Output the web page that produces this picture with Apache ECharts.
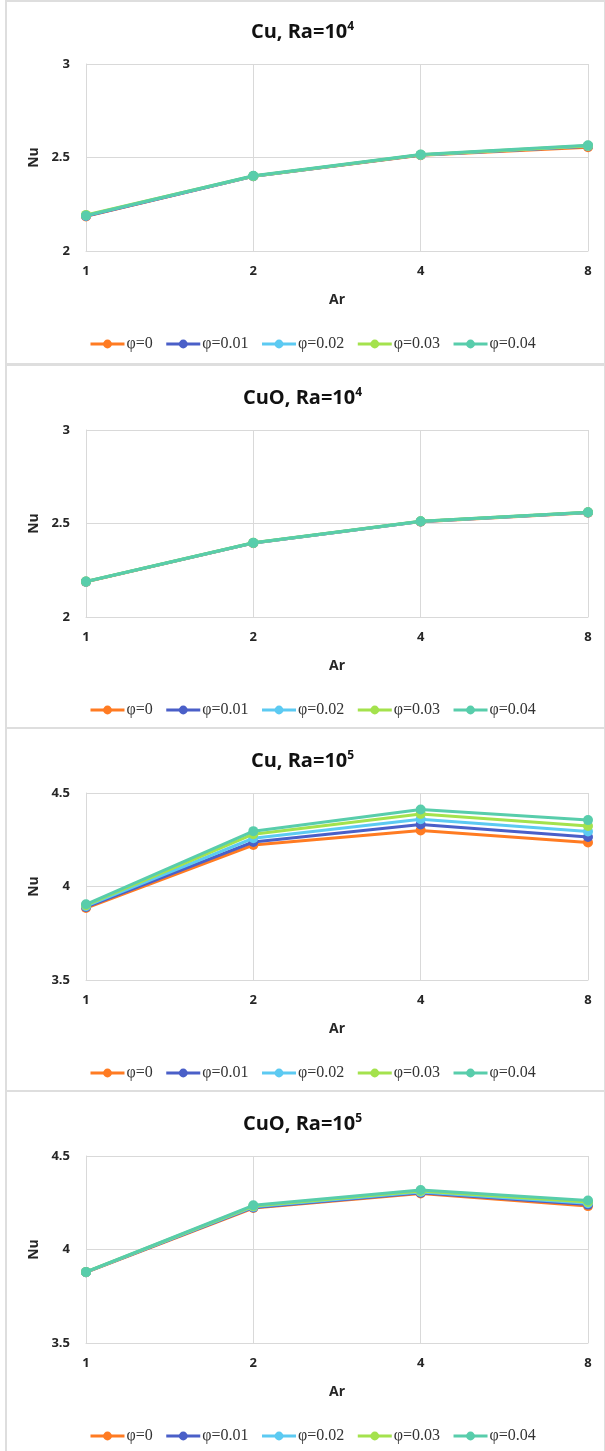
<!DOCTYPE html>
<html>
<head>
<meta charset="utf-8">
<script src="https://cdn.jsdelivr.net/npm/echarts@6/dist/echarts.min.js"></script>
<style>
  body { margin: 0; background: #fff; }
  #wrap { position: relative; width: 605px; height: 1451px; overflow: hidden; }
  .chart { position: absolute; left: 0; width: 605px; height: 364px; }
  .frame { position: absolute; left: 5px; width: 597px; height: 361px; border: 2px solid #dedede; pointer-events: none; }
</style>
</head>
<body>
<div id="wrap">
  <div class="frame" style="top:0px"></div>
  <div class="frame" style="top:364px"></div>
  <div class="frame" style="top:727px"></div>
  <div class="frame" style="top:1090px"></div>
  <div class="chart" id="c0" style="top:0px"></div>
  <div class="chart" id="c1" style="top:366px"></div>
  <div class="chart" id="c2" style="top:729px"></div>
  <div class="chart" id="c3" style="top:1092px"></div>
</div>
<script>
// x categories (aspect ratio)
var arLabels = ['1', '2', '4', '8'];
var phiNames = ['φ=0', 'φ=0.01', 'φ=0.02', 'φ=0.03', 'φ=0.04'];
var colors = ['#ff7b22', '#4a5fc8', '#5ccaf2', '#a4e24d', '#58cdab'];

// Cu, Ra=10^4
var cuRa4 = [
  [2.185, 2.400, 2.512, 2.555],
  [2.187, 2.400, 2.513, 2.560],
  [2.189, 2.400, 2.514, 2.562],
  [2.193, 2.401, 2.515, 2.563],
  [2.190, 2.402, 2.516, 2.565]
];
// CuO, Ra=10^4
var cuoRa4 = [
  [2.188, 2.395, 2.510, 2.558],
  [2.189, 2.396, 2.511, 2.559],
  [2.189, 2.396, 2.511, 2.559],
  [2.190, 2.397, 2.512, 2.560],
  [2.190, 2.397, 2.512, 2.560]
];
// Cu, Ra=10^5
var cuRa5 = [
  [3.885, 4.222, 4.300, 4.235],
  [3.890, 4.238, 4.332, 4.265],
  [3.895, 4.258, 4.360, 4.294],
  [3.900, 4.280, 4.388, 4.324],
  [3.905, 4.296, 4.412, 4.355]
];
// CuO, Ra=10^5
var cuoRa5 = [
  [3.878, 4.222, 4.300, 4.232],
  [3.879, 4.225, 4.303, 4.240],
  [3.879, 4.228, 4.308, 4.247],
  [3.880, 4.232, 4.313, 4.254],
  [3.880, 4.236, 4.318, 4.262]
];

var panels = [
  { id: 'c0', name: 'Cu, Ra=10', exp: '4', data: cuRa4, min: 2, max: 3 },
  { id: 'c1', name: 'CuO, Ra=10', exp: '4', data: cuoRa4, min: 2, max: 3 },
  { id: 'c2', name: 'Cu, Ra=10', exp: '5', data: cuRa5, min: 3.5, max: 4.5 },
  { id: 'c3', name: 'CuO, Ra=10', exp: '5', data: cuoRa5, min: 3.5, max: 4.5 }
];

var gridColor = '#d9d9d9';
var labelFont = { fontFamily: 'Open Sans', fontWeight: 'bold', fontSize: 13, color: '#262626' };

panels.forEach(function (p) {
  var chart = echarts.init(document.getElementById(p.id), null, { renderer: 'canvas' });
  var series = p.data.map(function (vals, i) {
    return {
      name: phiNames[i],
      type: 'line',
      data: vals,
      symbol: 'circle',
      symbolSize: 10,
      lineStyle: { width: 3, color: colors[i] },
      itemStyle: { color: colors[i] },
      z: 2 + i
    };
  });
  var option = {
    animation: false,
    title: {
      text: '{t|' + p.name + '}{s|' + p.exp + '}',
      left: 'center',
      top: 16,
      textStyle: {
        rich: {
          t: { fontFamily: 'Open Sans', fontWeight: 'bold', fontSize: 20, color: '#111' },
          s: { fontFamily: 'Open Sans', fontWeight: 'bold', fontSize: 12, color: '#111', verticalAlign: 'top', padding: [0, 0, 11, 0] }
        }
      }
    },
    legend: {
      data: phiNames,
      left: 84,
      top: 331,
      itemWidth: 34,
      itemHeight: 11,
      itemGap: 12,
      lineStyle: { width: 3 },
      textStyle: { fontFamily: 'Liberation Serif', fontSize: 16, color: '#333', padding: [0, 0, 0, -3] }
    },
    grid: { left: 86, right: 17, top: 64, height: 187 },
    xAxis: {
      type: 'category',
      data: arLabels,
      boundaryGap: false,
      axisLine: { lineStyle: { color: gridColor, width: 1 } },
      axisTick: { show: false },
      splitLine: { show: true, lineStyle: { color: gridColor } },
      axisLabel: Object.assign({ margin: 14 }, labelFont),
      name: 'Ar',
      nameLocation: 'middle',
      nameGap: 42,
      nameTextStyle: { fontFamily: 'Open Sans', fontWeight: 'bold', fontSize: 14, color: '#262626' }
    },
    yAxis: {
      type: 'value',
      min: p.min,
      max: p.max,
      interval: 0.5,
      axisLine: { show: true, lineStyle: { color: gridColor } },
      axisTick: { show: false },
      splitLine: { lineStyle: { color: gridColor } },
      axisLabel: Object.assign({ margin: 16 }, labelFont),
      name: 'Nu',
      nameLocation: 'middle',
      nameGap: 44,
      nameTextStyle: { fontFamily: 'Open Sans', fontWeight: 'bold', fontSize: 14, color: '#262626' }
    },
    series: series
  };
  chart.setOption(option);
});
</script>
</body>
</html>
